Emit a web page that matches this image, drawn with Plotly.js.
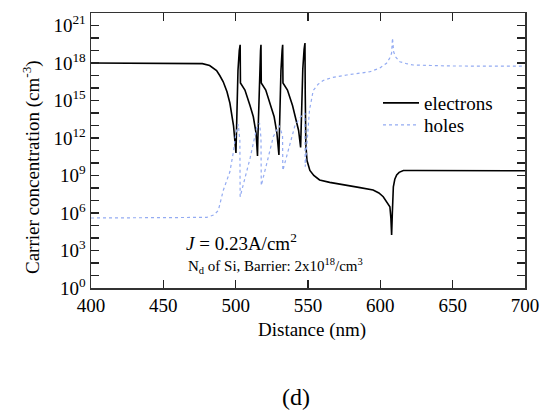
<!DOCTYPE html>
<html>
<head>
<meta charset="utf-8">
<script src="https://cdn.plot.ly/plotly-3.0.1.min.js"></script>
<style>html,body{margin:0;padding:0;background:#fff;}#chart{width:545px;height:414px;}</style>
</head>
<body>
<div id="chart"></div>
<script>
// Distance (nm) and log10 of concentration (cm^-3)
const electronX = [400, 470, 477, 482, 486.8, 489, 491.4, 494, 496, 498.5, 500.2,
  500.4, 501.0, 501.6, 502.5, 503.1, 503.3,
  506.4, 509.9, 512.2, 514.1, 515.1,
  515.3, 515.9, 516.5, 517.2, 517.5, 517.7,
  520.8, 524.3, 526.6, 528.5, 529.9,
  530.1, 530.7, 531.3, 532.1, 532.5, 532.7,
  535.8, 539.3, 541.6, 543.5, 544.9,
  545.1, 545.7, 546.4, 547.3, 547.9, 548.1, 548.5, 549.3, 550.3, 551.3, 554, 558, 565, 576.7, 585, 595, 599, 602, 604.5, 606.6, 607.3, 607.8, 608.3, 609, 610, 611.3, 613, 615.9, 625, 650, 700];
const electronExp = [18, 18, 17.95, 17.8, 17.4, 17.0, 16.5, 15.7, 14.8, 13.0, 10.8,
  11.8, 14.8, 17.4, 19.0, 19.45, 16.4,
  15.84, 14.6, 13.7, 12.4, 10.56,
  11.8, 14.8, 17.4, 19.0, 19.45, 16.4,
  15.84, 14.6, 13.7, 12.4, 10.64,
  11.8, 14.8, 17.4, 19.0, 19.45, 16.4,
  15.84, 14.6, 13.6, 12.6, 11.25,
  12.3, 15.2, 17.5, 19.1, 19.6, 15.5, 11.5, 10.2, 9.7, 9.4, 9.0, 8.64, 8.45, 8.24, 8.05, 7.84, 7.6, 7.3, 6.9, 6.5, 5.6, 4.24, 6.0, 8.1, 8.7, 9.04, 9.25, 9.4, 9.4, 9.38, 9.38];

const holeX = [400, 480, 485, 488, 491.4, 494, 496, 498.3, 500.2, 501.8, 502.9, 503.1,
  506, 510, 514.5, 516.5, 517.5, 517.7,
  522, 526, 530, 532.4, 532.6,
  537, 541, 545, 547.8, 548.1,
  549.5, 551, 553.6, 557, 560.5, 567, 576.7, 585, 592.8, 599.7, 604.3, 606.5, 607.8, 608.4, 609.2, 610.5, 613.5, 618, 622.7, 635, 650, 700];
const holeExp = [5.6, 5.65, 5.85, 6.2, 7.8, 8.7, 9.3, 10.8, 12.4, 13.1, 11.8, 7.3,
  8.6, 10.4, 12.8, 13.2, 12.0, 8.2,
  10.2, 12.1, 13.0, 12.2, 9.4,
  11.2, 13.0, 13.7, 14.0, 9.7,
  12.0, 14.2, 15.8, 16.3, 16.6, 16.85, 17.04, 17.15, 17.3, 17.6, 17.98, 18.4, 18.8, 20.0, 18.9, 18.5, 18.1, 17.95, 17.84, 17.8, 17.76, 17.75];

const xTicks = [400, 450, 500, 550, 600, 650, 700];
const yMajorExp = [0, 3, 6, 9, 12, 15, 18, 21];
const yMinorExp = [1, 2, 4, 5, 7, 8, 10, 11, 13, 14, 16, 17, 19, 20, 22];

const pw = (a) => a.map(e => Math.pow(10, e));
const FONT = 'Liberation Serif';

const L = 91, T = 13, W = 434, H = 275;
const px = (x) => (x - L) / W;
const py = (y) => (T + H - y) / H;

const traces = [
  {x: electronX, y: pw(electronExp), type: 'scatter', mode: 'lines', name: 'electrons',
   legend: 'legend', line: {color: '#000000', width: 1.6}},
  {x: holeX, y: pw(holeExp), type: 'scatter', mode: 'lines', name: 'holes',
   legend: 'legend2', line: {color: '#93abf2', width: 1.2, dash: 'dot'}}
];

const legendBase = {xanchor: 'left', yanchor: 'middle', bgcolor: 'rgba(0,0,0,0)', itemwidth: 36,
                    font: {family: FONT, size: 19, color: '#000'}, borderwidth: 0};

const layout = {
  width: 545, height: 414,
  margin: {l: L, r: 545 - L - W, t: T, b: 414 - T - H},
  paper_bgcolor: '#ffffff', plot_bgcolor: '#ffffff',
  font: {family: FONT, size: 19, color: '#000'},
  showlegend: true,
  legend: Object.assign({x: px(378), y: py(103)}, legendBase),
  legend2: Object.assign({x: px(378), y: py(125)}, legendBase),
  xaxis: {range: [400, 700], tickmode: 'array', tickvals: xTicks, ticktext: xTicks.map(String),
          ticks: 'inside', ticklen: 8, tickwidth: 1.2, tickcolor: '#222', mirror: 'ticks',
          showline: true, linecolor: '#333', linewidth: 1.5, showgrid: false, zeroline: false,
          tickfont: {family: FONT, size: 19, color: '#000'}},
  yaxis: {type: 'log', range: [0, 22], tickmode: 'array', tickvals: pw(yMajorExp),
          ticktext: yMajorExp.map(e => '10<sup>' + e + '</sup>'),
          ticks: 'inside', ticklen: 8, tickwidth: 1.2, tickcolor: '#222', mirror: 'ticks',
          showline: true, linecolor: '#333', linewidth: 1.5, showgrid: false, zeroline: false,
          tickfont: {family: FONT, size: 19, color: '#000'},
          minor: {tickmode: 'array', tickvals: pw(yMinorExp), ticks: 'inside', ticklen: 8, tickwidth: 1.2, tickcolor: '#222', showgrid: false}},
  annotations: [
    {text: 'Distance (nm)', xref: 'paper', yref: 'paper', x: px(312), y: py(330), showarrow: false,
     xanchor: 'center', yanchor: 'middle', font: {family: FONT, size: 19}},
    {text: 'Carrier concentration (cm<sup>-3</sup>)', xref: 'paper', yref: 'paper', x: px(31), y: py(167),
     showarrow: false, textangle: -90, xanchor: 'center', yanchor: 'middle', font: {family: FONT, size: 19}},
    {text: '<i>J</i> = 0.23A/cm<sup>2</sup>', xref: 'paper', yref: 'paper', x: px(184), y: py(242),
     showarrow: false, xanchor: 'left', yanchor: 'middle', font: {family: FONT, size: 19}},
    {text: 'N<sub>d</sub> of Si, Barrier: 2x10<sup>18</sup>/cm<sup>3</sup>', xref: 'paper', yref: 'paper', x: px(185.5), y: py(266),
     showarrow: false, xanchor: 'left', yanchor: 'middle', font: {family: FONT, size: 15}},
    {text: '(d)', xref: 'paper', yref: 'paper', x: px(295.7), y: py(397), showarrow: false,
     xanchor: 'center', yanchor: 'middle', font: {family: FONT, size: 24}}
  ]
};

Plotly.newPlot('chart', traces, layout, {staticPlot: true, displayModeBar: false});
</script>
</body>
</html>
